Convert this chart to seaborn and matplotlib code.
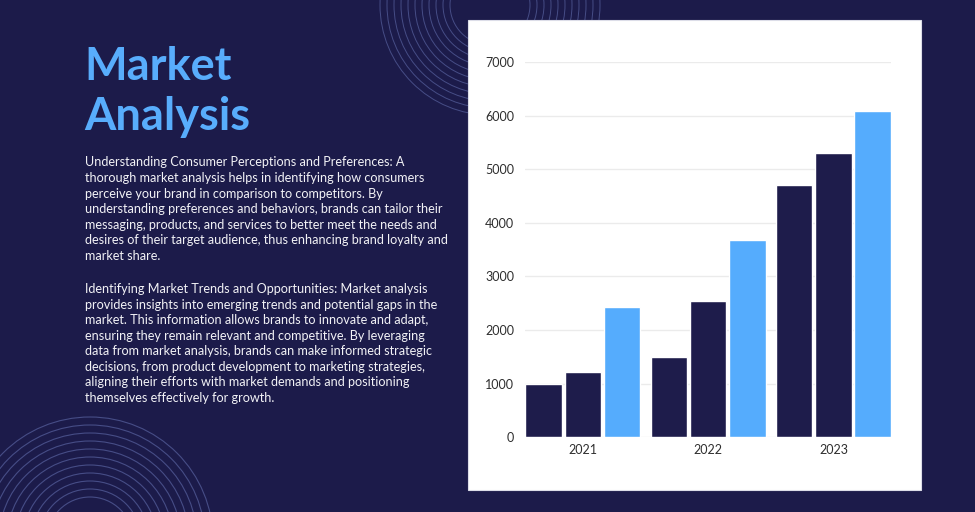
import matplotlib
matplotlib.use("Agg")
import matplotlib.pyplot as plt
from matplotlib.patches import Circle, Rectangle
import pandas as pd
import seaborn as sns

# chart data
years = ["2021", "2022", "2023"]
series = ["Series 1", "Series 2", "Series 3"]
values_s1 = [1000, 1490, 4700]
values_s2 = [1220, 2550, 5300]
values_s3 = [2430, 3680, 6080]
y_ticks = [0, 1000, 2000, 3000, 4000, 5000, 6000, 7000]

title_lines = ["Market", "Analysis"]
para1 = [
    "Understanding Consumer Perceptions and Preferences: A",
    "thorough market analysis helps in identifying how consumers",
    "perceive your brand in comparison to competitors. By",
    "understanding preferences and behaviors, brands can tailor their",
    "messaging, products, and services to better meet the needs and",
    "desires of their target audience, thus enhancing brand loyalty and",
    "market share.",
]
para2 = [
    "Identifying Market Trends and Opportunities: Market analysis",
    "provides insights into emerging trends and potential gaps in the",
    "market. This information allows brands to innovate and adapt,",
    "ensuring they remain relevant and competitive. By leveraging",
    "data from market analysis, brands can make informed strategic",
    "decisions, from product development to marketing strategies,",
    "aligning their efforts with market demands and positioning",
    "themselves effectively for growth.",
]

bg = "#1c1b4a"
navy = "#1e1c4b"
light_blue = "#55acfd"

df = pd.DataFrame({
    "year": years * 3,
    "series": [series[0]] * 3 + [series[1]] * 3 + [series[2]] * 3,
    "value": values_s1 + values_s2 + values_s3,
})

sns.set_theme(style="white")
plt.rcParams["font.family"] = ["Lato", "DejaVu Sans"]

W, H = 975, 512
fig = plt.figure(figsize=(W / 100, H / 100), dpi=100, facecolor=bg)

# background layer in pixel coordinates
bgax = fig.add_axes([0, 0, 1, 1])
bgax.set_xlim(0, W)
bgax.set_ylim(H, 0)
bgax.axis("off")
bgax.set_facecolor(bg)

ring_color = "#7a8ad0"
for r in range(40, 112, 7):
    bgax.add_patch(Circle((490, 5), r, fill=False, ec=ring_color, lw=0.7, alpha=0.45))
for r in range(43, 126, 8):
    bgax.add_patch(Circle((90, 540), r, fill=False, ec=ring_color, lw=0.8, alpha=0.45))

# white panel behind the chart
bgax.add_patch(Rectangle((467.5, 20), 453.5, 470, fc="white", ec="#dcdde8", lw=0.8, zorder=3))

# title and body text
for i, line in enumerate(title_lines):
    bgax.text(84, 80 + i * 50, line, fontsize=32.5, fontweight="bold", color="#58adfc",
              va="baseline", ha="left")
for i, line in enumerate(para1):
    bgax.text(85, 166.5 + i * 15.6, line, fontsize=9.05, color="#f2f2f6", va="baseline", ha="left")
for i, line in enumerate(para2):
    bgax.text(85, 293.3 + i * 15.5, line, fontsize=9.05, color="#f2f2f6", va="baseline", ha="left")

# bar chart
ax = fig.add_axes([525.3 / W, (H - 437.3) / H, 365.7 / W, 375.3 / H])
ax.set_facecolor("white")
sns.barplot(data=df, x="year", y="value", hue="series", hue_order=series,
            palette={series[0]: navy, series[1]: navy, series[2]: light_blue},
            width=0.94, gap=0.067, saturation=1, legend=False, ax=ax, zorder=3)
ax.set_xlim(-0.4595, 2.4595)
ax.set_ylim(0, 7000)
ax.set_yticks(y_ticks)
ax.set_yticklabels([str(t) for t in y_ticks])
ax.yaxis.grid(True, color="#ebebeb", lw=1, zorder=0)
ax.set_axisbelow(True)
for s in ax.spines.values():
    s.set_visible(False)
ax.tick_params(axis="both", length=0, labelsize=9, colors="#2e2e2e")
ax.tick_params(axis="y", pad=8)
ax.tick_params(axis="x", pad=5)
ax.set_xlabel("")
ax.set_ylabel("")

fig.savefig("out.png", dpi=100, facecolor=bg)
